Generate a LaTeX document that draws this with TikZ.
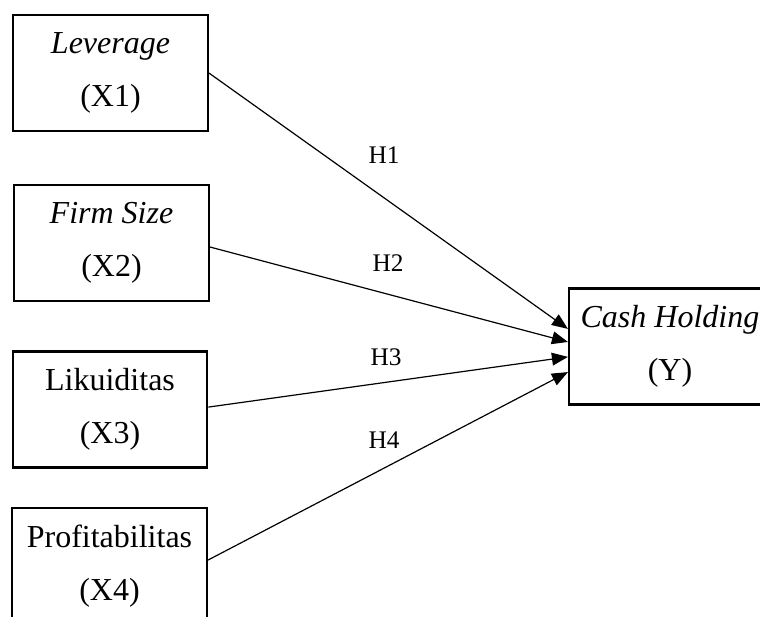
\documentclass[tikz,border=0pt]{standalone}
\usepackage{fontspec}
\setmainfont{Liberation Serif}
\usetikzlibrary{arrows.meta}

\begin{document}
\begin{tikzpicture}[x=0.375pt, y=-0.375pt,
                    var node/.style={rectangle,draw,line width=0.8pt,minimum width=73pt,minimum height=43.5pt,
                                     inner sep=0pt,align=center,font=\fontsize{12}{20}\selectfont},
                    hyp/.style={font=\fontsize{9.5}{11}\selectfont},
                    link/.style={-{Triangle[length=6pt,width=4.8pt]},line width=0.45pt}]
  \useasboundingbox (0,0) rectangle (760,617);
  \node[var node] (x1) at (110.5,73) {\textit{Leverage}\\(X1)};
  \node[var node] (x2) at (111.5,243) {\textit{Firm Size}\\(X2)};
  \node[var node] (x3) at (110,409.5) {Likuiditas\\(X3)};
  \node[var node] (x4) at (109.5,566) {Profitabilitas\\(X4)};
  \node[var node, minimum width=75.75pt] (y) at (670,346.5) {\textit{Cash Holding}\\(Y)};
  \path[link]
    (x1.east) edge ([yshift=6.6pt]y.west)
    ([yshift=-1.5pt]x2.east) edge ([yshift=1.7pt]y.west)
    ([yshift=0.9pt]x3.east) edge ([yshift=-3.9pt]y.west)
    ([yshift=2.2pt]x4.east) edge ([yshift=-9.6pt]y.west);
  \node[hyp] (h1) at (384,155) {H1};
  \node[hyp] (h2) at (388,263) {H2};
  \node[hyp] (h3) at (386,357) {H3};
  \node[hyp] (h4) at (384,440) {H4};
\end{tikzpicture}
\end{document}
